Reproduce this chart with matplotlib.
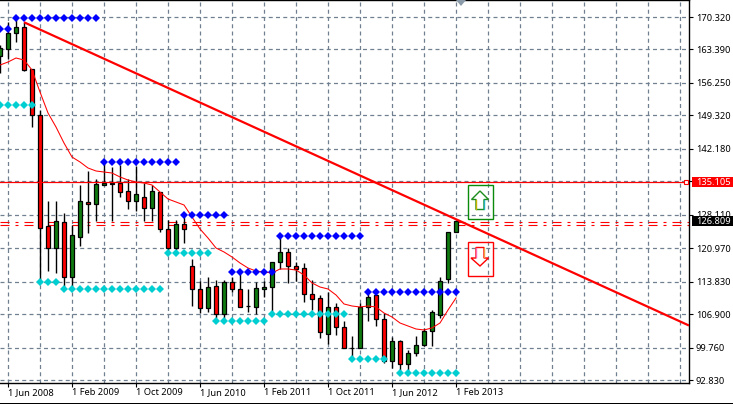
#!/usr/bin/env python3

import numpy as np
import matplotlib
matplotlib.use('Agg')
import matplotlib.pyplot as plt
from matplotlib.lines import Line2D
from matplotlib.patches import Polygon, Rectangle

plt.rcParams['font.family'] = ['Noto Sans', 'DejaVu Sans']

W, H = 733, 404
AX_R, AX_B = 689, 383

# Monthly candles, May 2008 to Feb 2013
opens = [161.99, 163.49, 166.91, 168.19, 159.22, 149.40, 125.71, 121.01, 126.56, 114.82,
         123.36, 130.83, 130.40, 134.46, 134.88, 134.88, 133.18, 131.04, 131.90, 129.55,
         132.96, 125.07, 121.01, 126.13, 117.17, 112.26, 108.20, 112.90, 106.92, 113.75,
         112.26, 108.63, 108.42, 112.26, 112.68, 118.02, 120.16, 117.17, 116.74, 111.19,
         110.34, 102.65, 108.42, 104.15, 99.66, 99.66, 108.42, 110.98, 105.85, 96.89,
         101.16, 96.25, 98.59, 100.30, 103.29, 106.71, 114.39, 124.43]
highs = [164.34, 169.25, 170.11, 169.25, 159.22, 150.47, 131.04, 131.04, 128.48, 125.92,
         134.46, 137.45, 135.74, 139.15, 138.30, 138.73, 135.74, 138.51, 134.88, 134.46,
         132.96, 126.99, 126.99, 128.05, 118.66, 113.96, 114.82, 114.18, 114.18, 114.82,
         116.10, 112.26, 113.75, 113.96, 118.02, 123.57, 121.01, 118.02, 117.81, 114.18,
         110.98, 111.62, 109.27, 105.43, 102.22, 109.27, 112.04, 111.62, 107.13, 102.01,
         101.37, 99.23, 102.22, 103.94, 107.77, 114.82, 124.43, 126.77]
lows = [158.37, 161.36, 164.98, 158.79, 146.84, 114.18, 116.10, 115.67, 112.04, 112.90,
        121.44, 124.21, 126.77, 134.46, 126.77, 131.90, 129.33, 128.91, 126.77, 126.77,
        124.43, 120.37, 120.58, 122.08, 108.63, 107.13, 107.35, 106.07, 105.64, 111.62,
        108.42, 107.35, 106.92, 110.55, 107.13, 116.53, 113.54, 113.96, 109.48, 107.77,
        101.80, 100.52, 102.44, 99.66, 97.10, 99.66, 105.43, 104.36, 96.46, 95.39,
        94.32, 94.54, 97.95, 100.09, 100.09, 106.07, 113.54, 124.43]
closes = [163.70, 166.91, 168.19, 159.01, 149.40, 125.28, 121.01, 126.77, 114.82, 123.78,
          131.04, 130.40, 134.67, 134.88, 134.67, 132.96, 131.04, 132.54, 129.55, 133.18,
          125.07, 121.01, 126.13, 125.07, 112.26, 108.20, 112.68, 106.92, 113.75, 112.26,
          108.42, 108.63, 112.47, 112.68, 118.02, 120.16, 117.17, 116.53, 111.19, 110.12,
          103.08, 108.42, 104.15, 99.66, 99.66, 108.42, 110.55, 105.85, 96.89, 101.16,
          96.25, 98.59, 100.30, 103.29, 107.35, 113.96, 124.43, 126.77]

moving_avg = [160.07, 160.71, 161.57, 161.14, 159.01, 154.31, 149.83, 146.84, 143.42, 140.43,
              139.37, 138.09, 137.45, 137.23, 137.02, 136.17, 135.52, 135.10, 134.88, 134.46,
              132.96, 131.47, 130.83, 130.19, 127.63, 125.07, 123.14, 121.01, 120.16, 119.09,
              117.81, 116.74, 116.10, 115.89, 115.67, 116.53, 116.53, 116.31, 115.25, 113.54,
              112.68, 112.26, 110.98, 109.06, 108.63, 108.42, 108.63, 108.42, 107.13, 106.28,
              105.00, 104.36, 103.72, 103.51, 103.94, 105.00, 107.77, 110.34]

# Fractal levels: price, first bar, last bar (bar 0 = Jun 2008)
blue_levels = [(167.70, -1, 0), (170.11, 1, 11), (139.30, 12, 21), (127.99, 22, 27),
               (115.78, 28, 33), (123.51, 34, 44), (111.68, 45, 56)]
cyan_levels = [(151.64, -1, 3), (113.75, 4, 6), (112.19, 7, 19), (119.88, 20, 25),
               (105.53, 26, 32), (106.86, 33, 42), (97.25, 43, 47), (94.22, 49, 56)]

price_ticks = [170.32, 163.39, 156.25, 149.32, 142.18, 135.25, 128.11, 120.97, 113.83,
               106.90, 99.76, 92.83]
date_labels = ['1 Jun 2008', '1 Feb 2009', '1 Oct 2009', '1 Jun 2010', '1 Feb 2011',
               '1 Oct 2011', '1 Jun 2012', '1 Feb 2013']
date_bars = [0, 8, 16, 24, 32, 40, 48, 56]

trend_x = [2, 85.125]
trend_y = [169.2, 104.46]
level_price = 135.105
last_price = 126.809
ask_line = 126.56
bid_line = 125.85

GREEN = '#0f7a0f'
RED = '#ff0000'
GRID = '#708090'


def px(x, y):
    return x / W, 1 - y / H


fig = plt.figure(figsize=(W / 100, H / 100), dpi=100, facecolor='white')
ax = fig.add_axes([0, 1 - AX_B / H, AX_R / W, AX_B / H])
ax.set_xlim(-1, 85.125)
ax.set_ylim(92.19, 173.95)

bars = np.arange(len(opens)) - 1
o, h, l, c = map(np.array, (opens, highs, lows, closes))
colors = [GREEN if b >= a else RED for a, b in zip(o, c)]

ax.vlines(bars, l, h, color='black', lw=1.0, zorder=3)
ax.bar(bars, np.abs(c - o), bottom=np.minimum(o, c), width=0.52, color=colors,
       edgecolor='black', linewidth=0.9, zorder=4)

ax.plot(bars, moving_avg, color=RED, lw=0.75, zorder=5)

for levels, col, z in ((cyan_levels, '#00ced1', 6), (blue_levels, '#0000ff', 7)):
    for price, first, last in levels:
        xs = np.arange(first, last + 1)
        ax.plot(xs, np.full(len(xs), price), ls='none', marker='D', ms=3.8,
                mfc=col, mec=col, mew=0, zorder=z)

ax.plot(trend_x, trend_y, color=RED, lw=1.6, zorder=8, solid_capstyle='butt')
ax.axhline(level_price, color=RED, lw=0.9, zorder=8)
for price in (ask_line, bid_line):
    ax.axhline(price, color=RED, lw=0.8, dashes=(8.1, 5.4, 2.7, 5.4), zorder=2)
ax.plot([84.75], [level_price], ls='none', marker='s', ms=3.4, mfc='white', mec=RED,
        mew=0.8, zorder=9)

# Grid and axes
ax.set_xticks(date_bars + [64, 72, 80], labels=date_labels + ['', '', ''])
ax.set_xticks(np.arange(4, 85, 8), minor=True)
ax.set_yticks(price_ticks)
ax.set_yticklabels([f'{p:.3f}' for p in price_ticks])
ax.yaxis.tick_right()
ax.grid(True, which='both', color=GRID, lw=0.9, dashes=(3.2, 2.6), zorder=1)
ax.set_axisbelow(True)
ax.tick_params(axis='y', length=3, width=0.8, pad=2, labelsize=6.7, colors='black')
ax.tick_params(axis='x', which='major', length=3, width=0.8, pad=0.5, labelsize=6.7)
ax.tick_params(axis='x', which='minor', length=0)
for lab in ax.get_xticklabels():
    lab.set_ha('left')
# no tick marks past the last date label
for tick in ax.xaxis.get_major_ticks()[8:]:
    tick.tick1line.set_visible(False)
ax.spines['left'].set_visible(False)
for s in ('top', 'right', 'bottom'):
    ax.spines[s].set_linewidth(1.0)
ax.set_zorder(1)

# Price tags on the axis
for price, face in ((level_price, RED), (last_price, 'black')):
    x0, y0 = ax.transData.transform((0, price))
    _, yf = fig.transFigure.inverted().transform((x0, y0))
    fig.add_artist(Rectangle((692 / W, yf - 5 / H), 41 / W, 10 / H, transform=fig.transFigure,
                             fc=face, ec=face, lw=0, zorder=5))
    fig.text(696 / W, yf - 0.5 / H, f'{price:.3f}', color='white', fontsize=6.7,
             va='center', ha='left', zorder=6)

# Buy and sell panels, open so the grid shows through
fig.add_artist(Rectangle(px(467.5, 218.5), 26 / W, 34 / H, transform=fig.transFigure,
                         fc='none', ec='#0a8a0a', lw=1.0, zorder=4))
fig.add_artist(Rectangle(px(467.5, 275.5), 26 / W, 34 / H, transform=fig.transFigure,
                         fc='none', ec=RED, lw=1.0, zorder=4))
up_arrow = [(480, 191), (488.5, 199.5), (484, 199.5), (484, 209.5), (476, 209.5),
            (476, 199.5), (471.5, 199.5)]
down_arrow = [(476, 247.5), (484, 247.5), (484, 258), (488.5, 258), (480, 266),
              (471, 258), (476, 258)]
fig.add_artist(Polygon([px(*p) for p in up_arrow], closed=True, transform=fig.transFigure,
                       fc='white', ec='#1c8c1c', lw=1.0, zorder=5))
fig.add_artist(Polygon([px(*p) for p in down_arrow], closed=True, transform=fig.transFigure,
                       fc='white', ec=RED, lw=1.0, zorder=5))
for (x1, y1, x2, y2, col) in ((476, 200, 476, 209, '#c8b400'), (484, 200, 484, 209, '#20b0c0'),
                              (476, 248, 476, 257, '#ff69b4'), (484, 248, 484, 257, '#f0a040')):
    a, b = px(x1, y1), px(x2, y2)
    fig.add_artist(Line2D([a[0], b[0]], [a[1], b[1]], color=col, lw=1.0, zorder=6))

# Scroll marker on top and frame at the bottom
fig.add_artist(Polygon([px(456, 0), px(466, 0), px(461, 6)], closed=True,
                       transform=fig.transFigure, fc='#8a9aa8', ec='none', zorder=5))
fig.add_artist(Rectangle((0, 0), 1, 1.5 / H, transform=fig.transFigure, fc='black', ec='none'))

fig.savefig('out.png', dpi=100, facecolor='white')
